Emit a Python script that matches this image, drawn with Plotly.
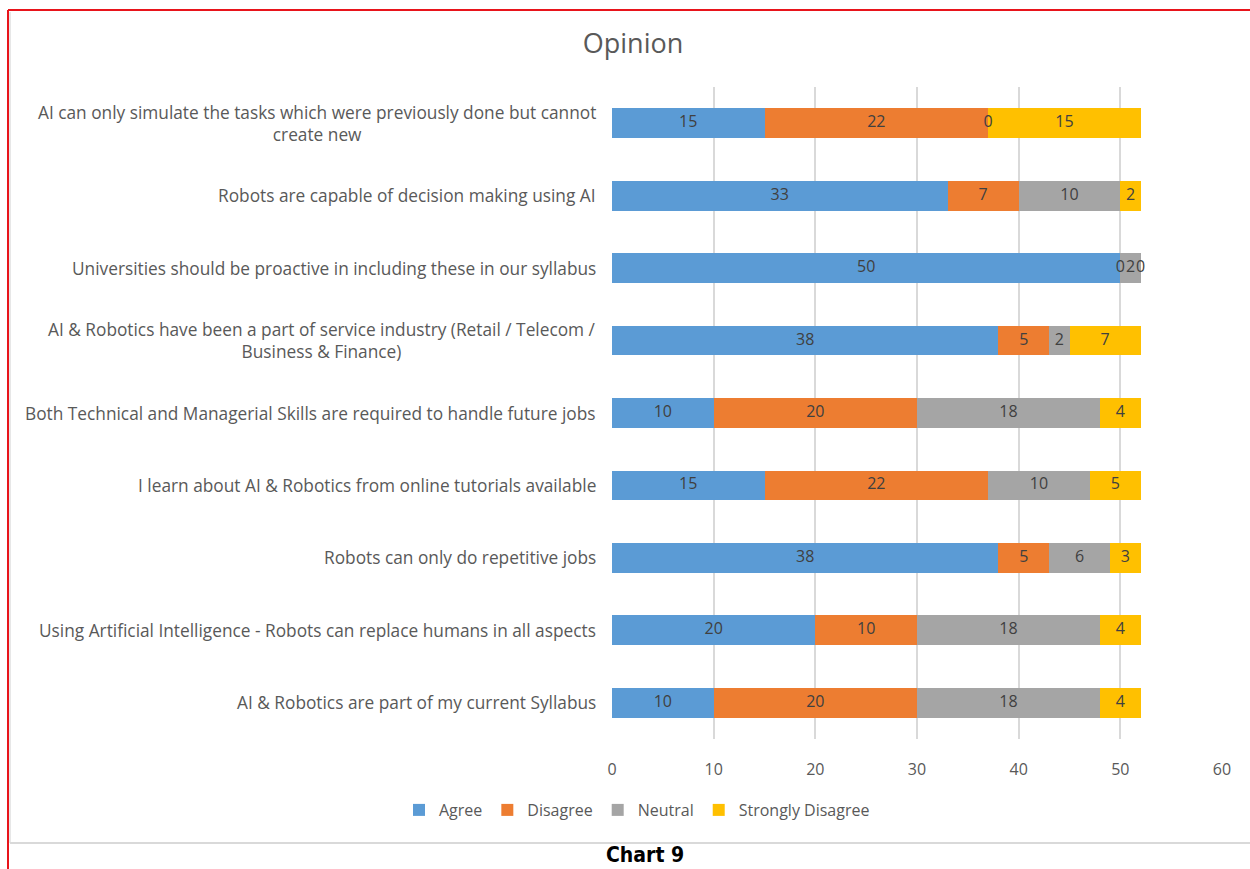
import plotly.graph_objects as go

# ---- data (bottom to top) ----
categories = [
    "AI & Robotics are part of my current Syllabus",
    "Using Artificial Intelligence - Robots can replace humans in all aspects",
    "Robots can only do repetitive jobs",
    "I learn about AI & Robotics from online tutorials available",
    "Both Technical and Managerial Skills are required to handle future jobs",
    "AI & Robotics have been a part of service industry (Retail / Telecom /<br>Business & Finance)",
    "Universities should be proactive in including these in our syllabus",
    "Robots are capable of decision making using AI",
    "AI can only simulate the tasks which were previously done but cannot<br>create new",
]
agree = [10, 20, 38, 15, 10, 38, 50, 33, 15]
disagree = [20, 10, 5, 22, 20, 5, 0, 7, 22]
neutral = [18, 18, 6, 10, 18, 2, 2, 10, 0]
strongly_disagree = [4, 4, 3, 5, 4, 7, 0, 2, 15]

series_names = ["Agree", "Disagree", "Neutral", "Strongly Disagree"]
series_values = [agree, disagree, neutral, strongly_disagree]
colors = ["#5B9BD5", "#ED7D31", "#A5A5A5", "#FFC000"]
x_ticks = [0, 10, 20, 30, 40, 50, 60]

W, H = 1250, 869
L, R, T, B = 612, 28, 87, 130
pw, ph = W - L - R, H - T - B

def px_x(p):
    return (p - L) / pw

def px_y(p):
    return (H - B - p) / ph

FONT = "Open Sans, Lato, sans-serif"
GREY = "#595959"

fig = go.Figure()
ids = list(range(len(categories)))
for name, vals, col in zip(series_names, series_values, colors):
    fig.add_trace(go.Bar(
        y=ids, x=vals, name=name, orientation="h",
        marker=dict(color=col, line=dict(width=0)),
        width=0.41,
    ))

# value labels at segment centres
base = [0] * len(categories)
for vals in series_values:
    mids = [b + v / 2 for b, v in zip(base, vals)]
    fig.add_trace(go.Scatter(
        x=mids, y=ids, mode="text", text=[str(v) for v in vals],
        textfont=dict(family=FONT, size=16, color="#404040"),
        showlegend=False, hoverinfo="skip", cliponaxis=False,
    ))
    base = [b + v for b, v in zip(base, vals)]

# category labels (centered multi-line, right-anchored)
for i, c in zip(ids, categories):
    fig.add_annotation(
        x=0, xref="paper", y=i, yref="y", text=c, showarrow=False,
        xanchor="right", xshift=-14, align="center",
        font=dict(family=FONT, size=17.3, color=GREY),
    )

fig.update_layout(
    width=W, height=H,
    margin=dict(l=L, r=R, t=T, b=B),
    paper_bgcolor="white", plot_bgcolor="white",
    barmode="stack",
    title=dict(text="Opinion", x=633 / W, xref="container", xanchor="center",
               y=1 - 44 / H, yanchor="middle",
               font=dict(family=FONT, size=27, color=GREY)),
    legend=dict(orientation="h", x=px_x(637), xanchor="center",
                y=px_y(810), yanchor="middle", traceorder="normal",
                font=dict(family=FONT, size=16, color=GREY),
                itemwidth=30, tracegroupgap=0),
    xaxis=dict(range=[0, 60], tickvals=x_ticks, showgrid=True,
               gridcolor="#D9D9D9", gridwidth=2, zeroline=False,
               showline=False, ticks="outside", ticklen=16,
               tickcolor="rgba(0,0,0,0)",
               tickfont=dict(family=FONT, size=16, color=GREY)),
    yaxis=dict(range=[-0.5, len(categories) - 0.5], showticklabels=False,
               showgrid=False, zeroline=False, showline=False),
    shapes=[
        dict(type="line", xref="paper", yref="paper",
             x0=px_x(8), x1=px_x(1250), y0=px_y(10), y1=px_y(10),
             line=dict(color="#E8141B", width=2)),
        dict(type="line", xref="paper", yref="paper",
             x0=px_x(8), x1=px_x(8), y0=px_y(10), y1=px_y(869),
             line=dict(color="#E8141B", width=2)),
        dict(type="line", xref="paper", yref="paper",
             x0=px_x(10), x1=px_x(10), y0=px_y(12), y1=px_y(843),
             line=dict(color="#D0D0D0", width=1)),
        dict(type="line", xref="paper", yref="paper",
             x0=px_x(10), x1=px_x(1250), y0=px_y(843), y1=px_y(843),
             line=dict(color="#D9D9D9", width=2)),
    ],
)
fig.add_annotation(
    x=px_x(645), xref="paper", y=px_y(868), yref="paper",
    text="<b>Chart 9</b>", showarrow=False, xanchor="center", yanchor="bottom",
    borderpad=0,
    font=dict(family="DejaVu Sans Condensed, DejaVu Sans, sans-serif", size=21, color="black"),
)

fig.write_html("out.html")
